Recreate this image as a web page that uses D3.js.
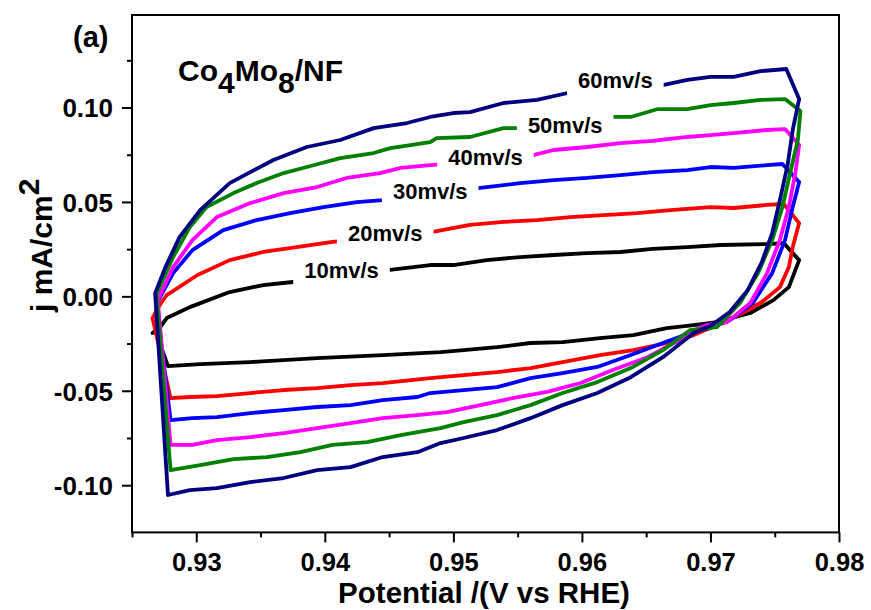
<!DOCTYPE html>
<html>
<head>
<meta charset="utf-8">
<script src="https://cdn.jsdelivr.net/npm/d3@7/dist/d3.min.js"></script>
<style>
  html, body { margin: 0; padding: 0; background: #fff; }
  svg { display: block; }
  text { font-family: "Liberation Sans", Arial, Helvetica, sans-serif; font-weight: bold; fill: #000; }
</style>
</head>
<body>
<svg id="chart" width="871" height="610"></svg>
<script>
// Cyclic voltammograms of Co4Mo8/NF at different scan rates: [potential (V vs RHE), j (mA/cm2)]
const scanRates = ["10mv/s", "20mv/s", "30mv/s", "40mv/s", "50mv/s", "60mv/s"];
const seriesColors = ["#000000", "#ff0000", "#0000ff", "#ff00ff", "#008000", "#000080"];

const cv10 = [
  [0.9266,-0.0194],[0.9272,-0.0163],[0.9277,-0.0115],[0.9295,-0.0057],[0.9326,0.0023],[0.9352,0.0060],
  [0.9375,0.0076],[0.9400,0.0097],[0.9427,0.0123],[0.9449,0.0139],[0.9482,0.0166],[0.9500,0.0166],
  [0.9526,0.0192],[0.9552,0.0208],[0.9578,0.0219],[0.9604,0.0229],[0.9630,0.0235],[0.9655,0.0251],
  [0.9682,0.0261],[0.9708,0.0272],[0.9744,0.0277],[0.9757,0.0282],[0.9769,0.0192],
  [0.9761,0.0049],[0.9749,-0.0020],[0.9731,-0.0088],[0.9705,-0.0136],[0.9687,-0.0152],[0.9666,-0.0168],
  [0.9640,-0.0205],[0.9614,-0.0221],[0.9585,-0.0242],[0.9560,-0.0247],[0.9534,-0.0269],[0.9508,-0.0285],
  [0.9490,-0.0295],[0.9445,-0.0311],[0.9394,-0.0327],[0.9342,-0.0348],[0.9303,-0.0359],[0.9278,-0.0369],
  [0.9268,-0.0180]
];

const cv20 = [
  [0.9266,-0.0115],[0.9270,-0.0062],[0.9277,0.0007],[0.9301,0.0113],[0.9326,0.0192],[0.9352,0.0235],
  [0.9378,0.0261],[0.9406,0.0288],[0.9435,0.0309],[0.9462,0.0330],[0.9484,0.0341],[0.9513,0.0378],
  [0.9539,0.0394],[0.9565,0.0404],[0.9591,0.0420],[0.9617,0.0430],[0.9643,0.0441],[0.9669,0.0457],
  [0.9700,0.0473],[0.9718,0.0468],[0.9744,0.0484],[0.9757,0.0489],[0.9769,0.0388],
  [0.9764,0.0261],[0.9761,0.0155],[0.9754,0.0049],[0.9740,-0.0030],[0.9725,-0.0088],[0.9705,-0.0152],
  [0.9687,-0.0205],[0.9666,-0.0247],[0.9640,-0.0285],[0.9614,-0.0311],[0.9585,-0.0348],[0.9560,-0.0380],
  [0.9534,-0.0401],[0.9508,-0.0417],[0.9482,-0.0433],[0.9445,-0.0459],[0.9420,-0.0470],[0.9394,-0.0486],
  [0.9368,-0.0496],[0.9342,-0.0512],[0.9316,-0.0528],[0.9295,-0.0533],[0.9280,-0.0539],
  [0.9266,-0.0115]
];

const cv30 = [
  [0.9269,-0.0040],[0.9282,0.0123],[0.9297,0.0245],[0.9321,0.0351],[0.9347,0.0404],[0.9373,0.0441],
  [0.9399,0.0473],[0.9425,0.0499],[0.9445,0.0510],[0.9474,0.0531],[0.9501,0.0552],[0.9521,0.0574],
  [0.9552,0.0600],[0.9578,0.0616],[0.9604,0.0627],[0.9630,0.0642],[0.9655,0.0658],[0.9682,0.0669],
  [0.9700,0.0685],[0.9718,0.0680],[0.9744,0.0695],[0.9756,0.0701],[0.9769,0.0605],
  [0.9764,0.0473],[0.9758,0.0298],[0.9748,0.0123],[0.9733,-0.0035],[0.9715,-0.0126],[0.9700,-0.0168],
  [0.9690,-0.0179],[0.9663,-0.0247],[0.9638,-0.0311],[0.9612,-0.0374],[0.9585,-0.0406],[0.9560,-0.0433],
  [0.9534,-0.0481],[0.9508,-0.0496],[0.9482,-0.0512],[0.9472,-0.0533],[0.9445,-0.0549],[0.9420,-0.0576],
  [0.9394,-0.0586],[0.9368,-0.0602],[0.9342,-0.0618],[0.9316,-0.0639],[0.9297,-0.0645],[0.9280,-0.0655],
  [0.9269,-0.0040]
];

const cv40 = [
  [0.9270,-0.0020],[0.9282,0.0155],[0.9297,0.0298],[0.9316,0.0420],[0.9342,0.0494],[0.9368,0.0547],
  [0.9394,0.0579],[0.9417,0.0627],[0.9443,0.0653],[0.9459,0.0680],[0.9482,0.0695],[0.9513,0.0711],
  [0.9540,0.0732],[0.9562,0.0748],[0.9578,0.0775],[0.9604,0.0791],[0.9630,0.0812],[0.9655,0.0823],
  [0.9682,0.0844],[0.9700,0.0854],[0.9718,0.0865],[0.9744,0.0881],[0.9758,0.0886],[0.9769,0.0801],
  [0.9766,0.0653],[0.9761,0.0473],[0.9754,0.0298],[0.9744,0.0123],[0.9731,-0.0035],[0.9713,-0.0136],
  [0.9697,-0.0152],[0.9684,-0.0189],[0.9676,-0.0231],[0.9651,-0.0322],[0.9624,-0.0390],[0.9599,-0.0459],
  [0.9573,-0.0506],[0.9546,-0.0539],[0.9521,-0.0576],[0.9495,-0.0613],[0.9472,-0.0629],[0.9445,-0.0645],
  [0.9420,-0.0671],[0.9394,-0.0698],[0.9368,-0.0724],[0.9342,-0.0745],[0.9316,-0.0761],[0.9297,-0.0787],
  [0.9280,-0.0787],[0.9270,-0.0020]
];

const cv50 = [
  [0.9269,0.0010],[0.9282,0.0208],[0.9295,0.0367],[0.9308,0.0473],[0.9329,0.0547],[0.9347,0.0600],
  [0.9368,0.0653],[0.9386,0.0685],[0.9412,0.0732],[0.9438,0.0759],[0.9451,0.0785],[0.9482,0.0817],
  [0.9487,0.0838],[0.9513,0.0844],[0.9539,0.0891],[0.9550,0.0891],[0.9571,0.0913],[0.9599,0.0934],
  [0.9624,0.0950],[0.9638,0.0950],[0.9659,0.0992],[0.9682,0.0992],[0.9700,0.1013],[0.9718,0.1024],
  [0.9739,0.1040],[0.9758,0.1045],[0.9770,0.0981],
  [0.9768,0.0828],[0.9762,0.0653],[0.9756,0.0473],[0.9748,0.0298],[0.9737,0.0123],[0.9723,-0.0035],
  [0.9705,-0.0163],[0.9684,-0.0179],[0.9663,-0.0285],[0.9638,-0.0380],[0.9612,-0.0454],[0.9585,-0.0512],
  [0.9560,-0.0576],[0.9534,-0.0629],[0.9508,-0.0666],[0.9490,-0.0698],[0.9459,-0.0735],[0.9433,-0.0772],
  [0.9406,-0.0787],[0.9381,-0.0825],[0.9355,-0.0851],[0.9329,-0.0862],[0.9303,-0.0894],[0.9280,-0.0920],
  [0.9269,0.0010]
];

const cv60 = [
  [0.9268,0.0017],[0.9276,0.0155],[0.9287,0.0314],[0.9303,0.0457],[0.9326,0.0600],[0.9342,0.0658],
  [0.9360,0.0722],[0.9386,0.0791],[0.9412,0.0828],[0.9438,0.0891],[0.9464,0.0918],[0.9482,0.0950],
  [0.9500,0.0971],[0.9513,0.0976],[0.9539,0.1024],[0.9565,0.1040],[0.9589,0.1077],[0.9626,0.1098],
  [0.9645,0.1109],[0.9663,0.1119],[0.9682,0.1146],[0.9700,0.1162],[0.9718,0.1162],[0.9739,0.1193],
  [0.9759,0.1204],[0.9769,0.1045],
  [0.9764,0.0881],[0.9760,0.0695],[0.9754,0.0510],[0.9748,0.0335],[0.9740,0.0182],[0.9729,0.0033],
  [0.9715,-0.0083],[0.9701,-0.0152],[0.9687,-0.0194],[0.9663,-0.0322],[0.9638,-0.0428],[0.9612,-0.0512],
  [0.9585,-0.0576],[0.9560,-0.0645],[0.9534,-0.0708],[0.9508,-0.0750],[0.9490,-0.0777],[0.9472,-0.0825],
  [0.9445,-0.0851],[0.9420,-0.0904],[0.9394,-0.0920],[0.9368,-0.0962],[0.9342,-0.0984],[0.9316,-0.1015],
  [0.9295,-0.1026],[0.9278,-0.1052],[0.9268,0.0017]
];

const curves = [cv10, cv20, cv30, cv40, cv50, cv60];

// where each scan-rate label sits (potential, current at text baseline)
const labelAnchors = [[0.9413,0.0097],[0.9447,0.0293],[0.9482,0.0515],[0.9525,0.0695],[0.9587,0.0865],[0.9626,0.1103]];

const xMajorTicks = [0.93, 0.94, 0.95, 0.96, 0.97, 0.98];
const xMinorTicks = [0.925, 0.935, 0.945, 0.955, 0.965, 0.975];
const xTickLabels = ["0.93", "0.94", "0.95", "0.96", "0.97", "0.98"];
const yMajorTicks = [-0.10, -0.05, 0.00, 0.05, 0.10];
const yMinorTicks = [-0.075, -0.025, 0.025, 0.075, 0.125];
const yTickLabels = ["-0.10", "-0.05", "0.00", "0.05", "0.10"];

const svg = d3.select("#chart");
const plot = { left: 132, right: 839, top: 15, bottom: 532.4 };

const x = d3.scaleLinear().domain([0.925, 0.98]).range([plot.left, plot.right]);
const y = d3.scaleLinear().domain([-0.125, 0.149]).range([plot.bottom, plot.top]);

// curves
const line = d3.line().x(d => x(d[0])).y(d => y(d[1]));
const gCurves = svg.append("g");
curves.forEach((c, i) => {
  gCurves.append("path")
    .datum(c)
    .attr("d", line)
    .attr("fill", "none")
    .attr("stroke", seriesColors[i])
    .attr("stroke-width", 3.8)
    .attr("stroke-linejoin", "round")
    .attr("stroke-linecap", "round");
});

// scan-rate labels, each on a white patch that breaks its curve
const gLabels = svg.append("g");
scanRates.forEach((name, i) => {
  const [e, j] = labelAnchors[i];
  const t = gLabels.append("text")
    .attr("x", x(e)).attr("y", y(j))
    .attr("text-anchor", "middle")
    .style("font-size", "22px")
    .text(name);
  const bb = t.node().getBBox();
  gLabels.insert("rect", "text")
    .attr("x", bb.x - 11).attr("y", bb.y - 2)
    .attr("width", bb.width + 22).attr("height", bb.height + 6)
    .attr("fill", "#fff");
});

// axes
const xAxis = svg.append("g").attr("transform", `translate(0,${plot.bottom})`)
  .call(d3.axisBottom(x).tickValues(xMajorTicks).tickSize(10).tickFormat((d, i) => xTickLabels[i]));
svg.append("g").attr("transform", `translate(0,${plot.bottom})`)
  .call(d3.axisBottom(x).tickValues(xMinorTicks).tickSize(5).tickFormat(""));
const yAxis = svg.append("g").attr("transform", `translate(${plot.left},0)`)
  .call(d3.axisLeft(y).tickValues(yMajorTicks).tickSize(10).tickFormat((d, i) => yTickLabels[i]));
svg.append("g").attr("transform", `translate(${plot.left},0)`)
  .call(d3.axisLeft(y).tickValues(yMinorTicks).tickSize(5).tickFormat(""));

svg.selectAll(".domain").remove();
svg.selectAll(".tick line").attr("stroke", "#000").attr("stroke-width", 2);
xAxis.selectAll(".tick text")
  .attr("y", 38.5).attr("dy", 0)
  .style("font-size", "25.5px").style("font-family", "'Liberation Sans', Arial, sans-serif").style("font-weight", "bold");
yAxis.selectAll(".tick text")
  .attr("x", -19).attr("dy", "0.36em")
  .style("font-size", "26px").style("font-family", "'Liberation Sans', Arial, sans-serif").style("font-weight", "bold");

// frame
svg.append("rect")
  .attr("x", plot.left).attr("y", plot.top)
  .attr("width", plot.right - plot.left).attr("height", plot.bottom - plot.top)
  .attr("fill", "none").attr("stroke", "#000").attr("stroke-width", 2);

// titles
svg.append("text")
  .attr("x", 484).attr("y", 603)
  .attr("text-anchor", "middle")
  .style("font-size", "29.5px")
  .text("Potential /(V vs RHE)");

const yTitle = svg.append("text")
  .attr("transform", "translate(52,312) rotate(-90)")
  .attr("text-anchor", "start")
  .style("font-size", "30px");
yTitle.append("tspan").text("j mA/cm");
yTitle.append("tspan").attr("dy", -13).text("2");

svg.append("text")
  .attr("x", 73).attr("y", 47)
  .style("font-size", "29px")
  .text("(a)");

const sample = svg.append("text")
  .attr("x", 178).attr("y", 81)
  .style("font-size", "30px");
sample.append("tspan").text("Co");
sample.append("tspan").attr("dy", 12).text("4");
sample.append("tspan").attr("dy", -12).text("Mo");
sample.append("tspan").attr("dy", 12).text("8");
sample.append("tspan").attr("dy", -12).text("/NF");
</script>
</body>
</html>
